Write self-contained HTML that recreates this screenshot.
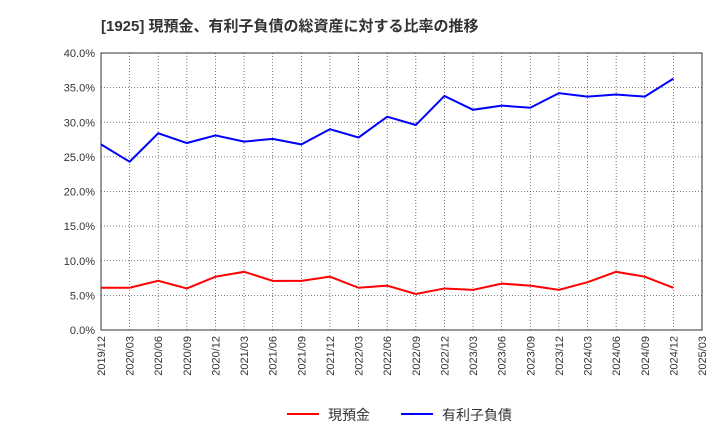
<!DOCTYPE html>
<html><head><meta charset="utf-8"><style>
body{margin:0;background:#fff;font-family:"Liberation Sans","Noto Sans CJK JP",sans-serif;}
</style></head><body>
<svg width="720" height="440" xmlns="http://www.w3.org/2000/svg">
<text x="101" y="31" font-size="15" font-weight="bold" fill="#333" font-family="Liberation Sans, Noto Sans CJK JP, sans-serif">[1925]  現預金、有利子負債の総資産に対する比率の推移</text>
<g id="grid"></g><g id="axes"></g><g id="series"></g>
<g>
<line x1="287" y1="414" x2="319" y2="414" stroke="#f00" stroke-width="2"/>
<text x="328" y="420" font-size="14" fill="#333">現預金</text>
<line x1="401" y1="414" x2="433" y2="414" stroke="#00f" stroke-width="2"/>
<text x="442" y="420" font-size="14" fill="#333">有利子負債</text>
</g>
</svg>
<script>
const categories=["2019/12","2020/03","2020/06","2020/09","2020/12","2021/03","2021/06","2021/09","2021/12","2022/03","2022/06","2022/09","2022/12","2023/03","2023/06","2023/09","2023/12","2024/03","2024/06","2024/09","2024/12","2025/03"];
const debtRatio=[26.8,24.3,28.4,27.0,28.1,27.2,27.6,26.8,29.0,27.8,30.8,29.6,33.8,31.8,32.4,32.1,34.2,33.7,34.0,33.7,36.3];
const cashRatio=[6.1,6.1,7.1,6.0,7.7,8.4,7.1,7.1,7.7,6.1,6.4,5.2,6.0,5.8,6.7,6.4,5.8,6.9,8.4,7.7,6.1];
const yTicks=[0,5,10,15,20,25,30,35,40];
const NS="http://www.w3.org/2000/svg";
const L=101,R=702,T=53,B=330;
const x=i=>L+(R-L)*i/(categories.length-1);
const y=v=>B-(B-T)*v/40;
function mk(tag,attrs,parent){const e=document.createElementNS(NS,tag);for(const k in attrs)e.setAttribute(k,attrs[k]);document.getElementById(parent).appendChild(e);return e;}
categories.forEach((c,i)=>{
 const g=mk("line",{x1:x(i),x2:x(i),y1:T,y2:B,stroke:"#555","stroke-dasharray":"1,2","stroke-width":0.8},"grid");
 
 
 const t=mk("text",{x:0,y:0,"font-size":11,fill:"#333","text-anchor":"end",transform:`translate(${x(i)+4},${B+6}) rotate(-90)`},"axes");
 t.textContent=c;
 
 
});
yTicks.forEach(v=>{
 const g=mk("line",{x1:L,x2:R,y1:y(v),y2:y(v),stroke:"#555","stroke-dasharray":"1,2","stroke-width":0.8},"grid");
 
 
 const t=mk("text",{x:L-6,y:y(v)+4,"font-size":11,fill:"#333","text-anchor":"end"},"axes");
 t.textContent=v.toFixed(1)+"%";
 
 
});
const fr=mk("rect",{x:L,y:T,width:R-L,height:B-T,fill:"none",stroke:"#333","stroke-width":1},"axes");


const p1=mk("polyline",{points:debtRatio.map((v,i)=>x(i)+","+y(v)).join(" "),fill:"none",stroke:"#00f","stroke-width":2},"series");


const p2=mk("polyline",{points:cashRatio.map((v,i)=>x(i)+","+y(v)).join(" "),fill:"none",stroke:"#f00","stroke-width":2},"series");


</script>
</body></html>
